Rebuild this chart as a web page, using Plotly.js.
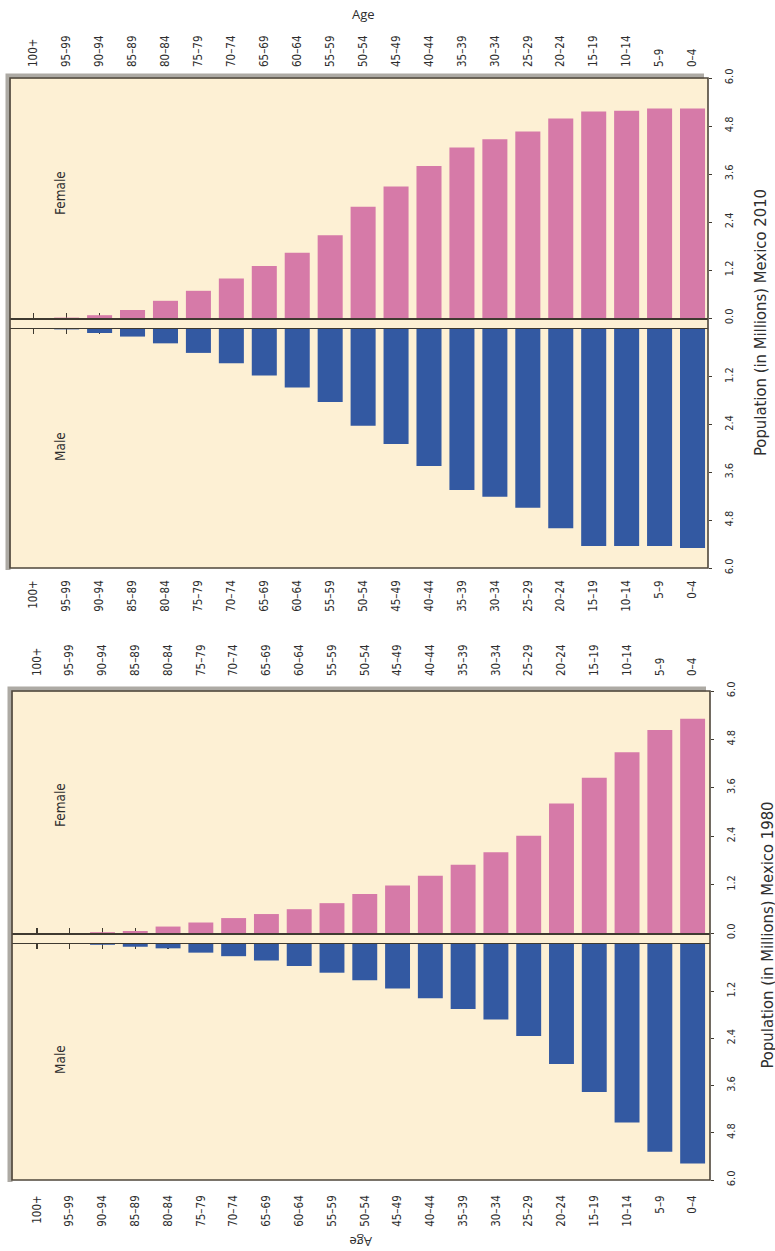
<!DOCTYPE html>
<html>
<head>
<meta charset="utf-8">
<script src="https://cdn.plot.ly/plotly-3.0.1.min.js"></script>
<style>html,body{margin:0;padding:0;background:#fff;}#chart{width:775px;height:1251px;}</style>
</head>
<body>
<div id="chart"></div>
<script>
// ---- data ----
const ageGroups = ['100+','95–99','90–94','85–89','80–84','75–79','70–74','65–69','60–64','55–59','50–54','45–49','40–44','35–39','30–34','25–29','20–24','15–19','10–14','5–9','0–4'];
const female2010 = [0, 0.01, 0.07, 0.20, 0.43, 0.68, 0.99, 1.30, 1.63, 2.07, 2.78, 3.29, 3.80, 4.26, 4.47, 4.66, 4.99, 5.16, 5.18, 5.24, 5.24];
const male2010   = [0, 0.01, 0.10, 0.19, 0.36, 0.60, 0.86, 1.17, 1.47, 1.83, 2.43, 2.89, 3.44, 4.04, 4.21, 4.49, 5.00, 5.45, 5.45, 5.45, 5.50];
const female1980 = [0, 0, 0.02, 0.05, 0.16, 0.26, 0.37, 0.47, 0.59, 0.74, 0.97, 1.18, 1.42, 1.69, 2.00, 2.41, 3.21, 3.85, 4.48, 5.03, 5.31];
const male1980   = [0, 0, 0.02, 0.07, 0.11, 0.22, 0.31, 0.42, 0.56, 0.73, 0.92, 1.13, 1.38, 1.65, 1.92, 2.34, 3.05, 3.76, 4.54, 5.28, 5.58];
const femaleTickVals = [0, 1.2, 2.4, 3.6, 4.8, 6.0];
const femaleTickText = ['0.0', '1.2', '2.4', '3.6', '4.8', '6.0'];
const maleTickVals = [1.2, 2.4, 3.6, 4.8, 6.0];
const maleTickText = ['1.2', '2.4', '3.6', '4.8', '6.0'];
const panelTitles = ['Population (in Millions) Mexico 2010', 'Population (in Millions) Mexico 1980'];

// ---- style ----
const W = 775, H = 1251;
const px = v => v / W;
const py = v => 1 - v / H;
const PINK = '#D67AA8', BLUE = '#3359A2', CREAM = '#FDF0D4', BASE = '#3f3a30', TXT = '#2e2e2e';
const NARROW = '"Liberation Sans Narrow", "DejaVu Sans Condensed", "Roboto Condensed", "Liberation Sans", sans-serif';

// panel geometry (pixels)
const panels = [
  {x0: 10, x1: 708, top: 78, fBase: 318, mBase: 329, bottom: 568, range: [-0.72, 20.47], topStand: 10, botStand: 9, titleX: 760,
   femaleY: 193, maleY: 447},
  {x0: 12, x1: 710, top: 691, fBase: 933, mBase: 944, bottom: 1180, range: [-0.76, 20.53], topStand: 14, botStand: 12, titleX: 767,
   femaleY: 805, maleY: 1060}
];
const femaleData = [female2010, female1980];
const maleData = [male2010, male1980];

const data = [];
const layout = {
  width: W, height: H,
  margin: {l: 0, r: 0, t: 0, b: 0},
  paper_bgcolor: '#ffffff', plot_bgcolor: 'rgba(0,0,0,0)',
  showlegend: false, bargap: 0.24,
  shapes: [], annotations: []
};

const catAxis = {type: 'category', categoryorder: 'array', categoryarray: ageGroups, showgrid: false, zeroline: false, fixedrange: true};

function note(x, y, text, angle, font) {
  return {xref: 'paper', yref: 'paper', x: px(x), y: py(y), xanchor: 'center', yanchor: 'middle',
    text: text, showarrow: false, textangle: angle, font: font};
}

panels.forEach((p, i) => {
  const xi = 4 * i + 1, yi = 2 * i + 1;
  const xn = k => (k === 1 ? 'x' : 'x' + k);
  const yn = k => (k === 1 ? 'y' : 'y' + k);
  const xk = k => (k === 1 ? 'xaxis' : 'xaxis' + k);
  const yk = k => (k === 1 ? 'yaxis' : 'yaxis' + k);
  const xF = xi, xM = xi + 1, xT = xi + 2, xB = xi + 3, yF = yi, yM = yi + 1;
  const dom = [px(p.x0), px(p.x1)];

  data.push({type: 'bar', x: ageGroups, y: femaleData[i], xaxis: xn(xF), yaxis: yn(yF), marker: {color: PINK}, hoverinfo: 'x+y'});
  data.push({type: 'bar', x: ageGroups, y: maleData[i], xaxis: xn(xM), yaxis: yn(yM), marker: {color: BLUE}, hoverinfo: 'x+y'});
  data.push({type: 'scatter', mode: 'markers', x: ageGroups, y: ageGroups.map(() => null), xaxis: xn(xT), yaxis: yn(yF), hoverinfo: 'skip'});
  data.push({type: 'scatter', mode: 'markers', x: ageGroups, y: ageGroups.map(() => null), xaxis: xn(xB), yaxis: yn(yM), hoverinfo: 'skip'});

  const baseAx = Object.assign({}, catAxis, {domain: dom, range: p.range, showline: true, linecolor: BASE, linewidth: 1.5,
    ticks: 'inside', ticklen: 5, tickwidth: 1.5, tickcolor: BASE, showticklabels: false, layer: 'below traces'});
  const labAx = Object.assign({}, catAxis, {domain: dom, range: p.range, showline: false, ticks: '', showticklabels: true,
    tickangle: -90, tickfont: {family: NARROW, size: 11.5, color: TXT}});

  layout[xk(xF)] = Object.assign({}, baseAx, {anchor: yn(yF), side: 'bottom'});
  layout[xk(xM)] = Object.assign({}, baseAx, {anchor: yn(yM), side: 'top', matches: xn(xF)});
  layout[xk(xT)] = Object.assign({}, labAx, {anchor: yn(yF), side: 'top', matches: xn(xF), ticklabelstandoff: p.topStand});
  layout[xk(xB)] = Object.assign({}, labAx, {anchor: yn(yM), side: 'bottom', matches: xn(xF), ticklabelstandoff: p.botStand});

  const yCommon = {side: 'right', showgrid: false, zeroline: false, showline: false, fixedrange: true,
    tickmode: 'array', ticks: 'outside', ticklen: 3, tickcolor: BASE, tickangle: -90,
    ticklabelstandoff: 8, tickfont: {family: NARROW, size: 11, color: TXT}};
  layout[yk(yF)] = Object.assign({}, yCommon, {anchor: xn(xF), domain: [py(p.fBase), py(p.top)], range: [0, 6],
    tickvals: femaleTickVals, ticktext: femaleTickText});
  layout[yk(yM)] = Object.assign({}, yCommon, {anchor: xn(xM), domain: [py(p.bottom), py(p.mBase)], range: [6, 0],
    tickvals: maleTickVals, ticktext: maleTickText});

  // panel background, shadow (left + top) and frame
  layout.shapes.push({type: 'rect', xref: 'paper', yref: 'paper', layer: 'below',
    x0: px(p.x0), x1: px(p.x1), y0: py(p.bottom), y1: py(p.top), fillcolor: CREAM, line: {width: 0}});
  layout.shapes.push({type: 'path', xref: 'paper', yref: 'paper', layer: 'below',
    path: 'M ' + px(p.x0 - 2) + ' ' + py(p.bottom + 2) + ' L ' + px(p.x0 - 2) + ' ' + py(p.top - 2) + ' L ' + px(p.x1 - 4) + ' ' + py(p.top - 2),
    line: {width: 5, color: 'rgba(105,100,90,0.55)'}});
  layout.shapes.push({type: 'rect', xref: 'paper', yref: 'paper', layer: 'above',
    x0: px(p.x0), x1: px(p.x1), y0: py(p.bottom), y1: py(p.top), fillcolor: 'rgba(0,0,0,0)',
    line: {width: 1.6, color: '#4f473b'}});

  // panel labels
  layout.annotations.push(note(p.titleX, (p.top + p.bottom) / 2, panelTitles[i], -90, {family: NARROW, size: 16.5, color: TXT}));
  layout.annotations.push(note(60, p.femaleY, 'Female', -90, {family: NARROW, size: 13.5, color: TXT}));
  layout.annotations.push(note(60, p.maleY, 'Male', -90, {family: NARROW, size: 13.5, color: TXT}));
});

// axis titles "Age" (top, and upside-down at the bottom)
const ageFont = {family: '"Open Sans", "Liberation Sans", sans-serif', size: 13, color: TXT};
layout.annotations.push(note(363, 14, 'Age', 0, ageFont));
layout.annotations.push(note(361, 1242, 'Age', 180, ageFont));

Plotly.newPlot('chart', data, layout, {displayModeBar: false, staticPlot: true});
</script>
</body>
</html>
